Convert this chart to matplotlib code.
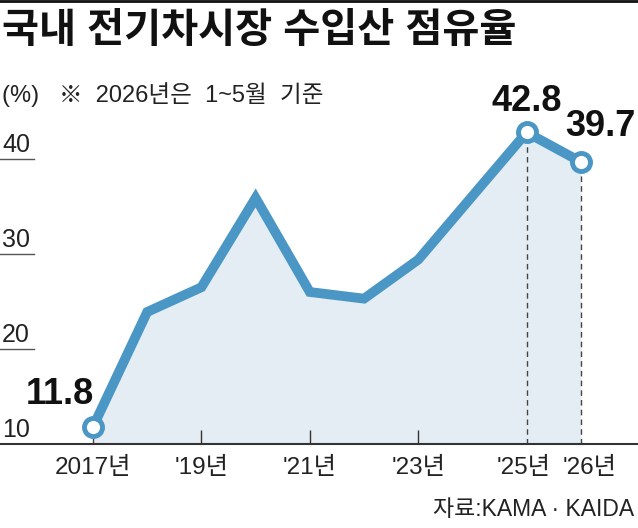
import matplotlib
matplotlib.use("Agg")
import matplotlib.pyplot as plt
import matplotlib.transforms as mtransforms
from matplotlib.lines import Line2D

# data
years = [2017, 2018, 2019, 2020, 2021, 2022, 2023, 2024, 2025, 2026]
share = [11.8, 23.9, 26.5, 35.9, 26.0, 25.3, 29.4, 36.1, 42.8, 39.7]
labeled_years = [2017, 2025, 2026]
tick_years = [2017, 2019, 2021, 2023, 2025, 2026]
tick_labels = ["2017년", "'19년", "'21년", "'23년", "'25년", "'26년"]
y_ticks = [10, 20, 30, 40]

title = "국내 전기차시장 수입산 점유율"
subtitle = "(%)   ※  2026년은  1~5월  기준"
source = "자료:KAMA · KAIDA"

FONT = ["Liberation Sans", "Noto Sans CJK KR", "DejaVu Sans"]
plt.rcParams["font.family"] = FONT

line_col = "#4a96c4"
fill_col = "#e4edf4"
ink = "#222222"

fig = plt.figure(figsize=(6.38, 5.28), dpi=100)
ax = fig.add_axes([0, 1 - 444 / 528, 1, (444 - 64) / 528])
ax.set_xlim(2015.284, 2027.055)
ax.set_ylim(10, 50)

ax.fill_between(years, share, 10, color=fill_col, lw=0, zorder=1)

# dashed drop lines for labelled points
for yr in labeled_years:
    v = share[years.index(yr)]
    ax.vlines(yr, 10, v, colors="#444444", linestyles=(0, (4, 3)), lw=1, zorder=2)

ax.plot(years, share, color=line_col, lw=7, solid_joinstyle="miter", zorder=3)
lx = [yr for yr in labeled_years]
ly = [share[years.index(yr)] for yr in labeled_years]
ax.plot(lx, ly, "o", ms=13, mfc="white", mec=line_col, mew=3.5, zorder=4, clip_on=False)

# value labels
offsets = {2017: (1, 11, "right"), 2025: (0, 10, "center"), 2026: (14, 13, "center")}
for yr in labeled_years:
    v = share[years.index(yr)]
    dx, dy, ha = offsets[yr]
    ax.annotate(f"{v:.1f}", (yr, v), xytext=(dx, dy), textcoords="offset points",
                ha=ha, va="bottom", fontsize=26, fontweight="bold", color="#111111",
                family=FONT)

# short y tick lines and labels above them
trans = mtransforms.blended_transform_factory(ax.transAxes, ax.transData)
for t in y_ticks:
    if t > 10:
        ax.plot([0, 34 / 638], [t, t], color="#555555", lw=1, transform=trans, zorder=2)
    ax.text(2 / 638, t + 0.25, str(t), transform=trans, ha="left", va="bottom",
            fontsize=18, color=ink)

# small solid ticks for years without drop lines
for yr in tick_years:
    if yr not in labeled_years:
        ax.vlines(yr, 10, 11.5, colors="#333333", lw=1, zorder=2)

ax.set_xticks(tick_years)
ax.set_xticklabels(tick_labels, fontsize=17.5, color=ink)
ax.tick_params(axis="x", length=0, pad=9)
# nudge the last two labels apart, they sit close together
xl = ax.get_xticklabels()
xl[-2].set_transform(xl[-2].get_transform() + mtransforms.ScaledTranslation(-3 / 100, 0, fig.dpi_scale_trans))
xl[-1].set_transform(xl[-1].get_transform() + mtransforms.ScaledTranslation(9 / 100, 0, fig.dpi_scale_trans))
ax.set_yticks([])
for s in ["top", "right", "left"]:
    ax.spines[s].set_visible(False)
ax.spines["bottom"].set_color("#333333")
ax.spines["bottom"].set_linewidth(1.5)
ax.set_facecolor("none")

fig.text(2 / 638, 1 - 31 / 528, title, fontsize=29, fontweight="bold",
         va="center", ha="left", color="#111111")
fig.text(2 / 638, 1 - 95 / 528, subtitle, fontsize=17, va="center", ha="left", color=ink)
fig.text(634 / 638, 1 - 509 / 528, source, fontsize=16.5, va="center", ha="right", color=ink)
fig.add_artist(Line2D([0, 1], [0.998, 0.998], color="#111111", lw=2, transform=fig.transFigure))

fig.savefig("out.png", dpi=100)
